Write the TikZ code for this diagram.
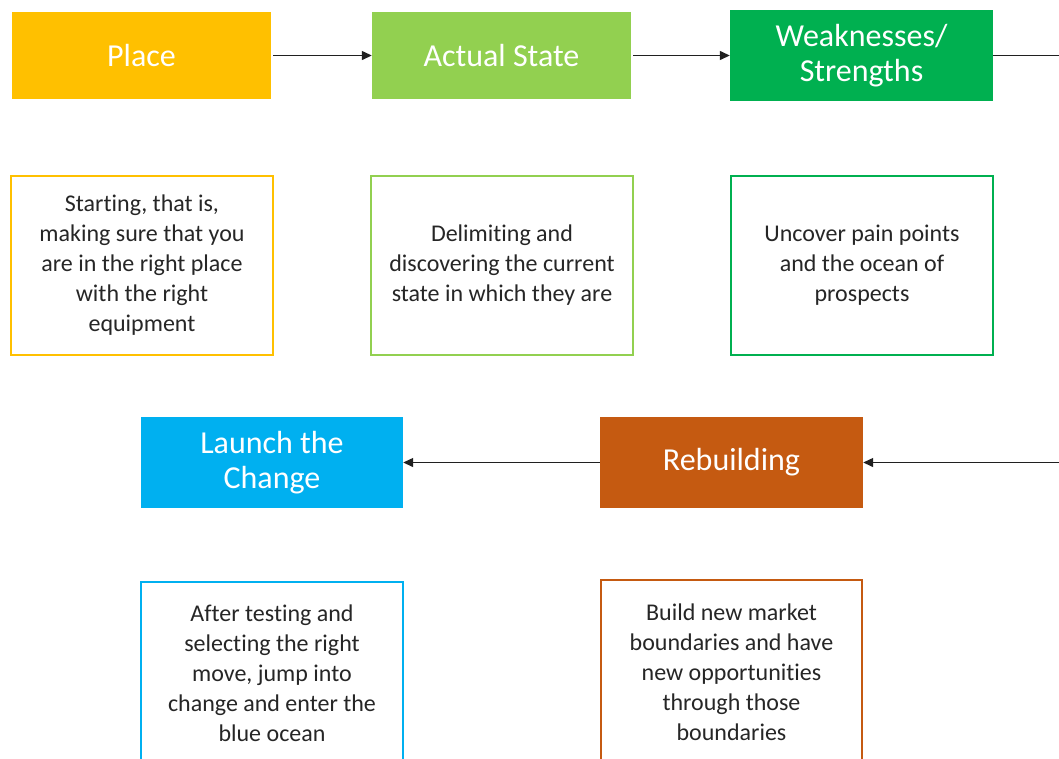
\documentclass[tikz,border=0pt]{standalone}
\usepackage{fontspec}
\setmainfont{Carlito}[Ligatures=NoCommon]
\usetikzlibrary{arrows.meta}
\definecolor{cPlace}{HTML}{FFC000}
\definecolor{cActual}{HTML}{92D050}
\definecolor{cWeak}{HTML}{00B050}
\definecolor{cLaunch}{HTML}{00B0F0}
\definecolor{cRebuild}{HTML}{C55A11}
\definecolor{cText}{HTML}{262626}
\definecolor{cLine}{HTML}{202020}
\begin{document}
\begin{tikzpicture}[x=1pt,y=-1pt,
  titlebox/.style={fill=#1, draw=none, text=white, align=center, inner sep=0pt,
    font=\fontsize{32}{35}\selectfont},
  descbox/.style={draw=#1, line width=1.6pt, fill=white, text=cText, align=center, inner sep=0pt,
    font=\fontsize{24}{30}\selectfont},
  conn/.style={draw=cLine, line width=1.3pt},
  arr/.style={conn, -{Triangle[length=10pt,width=9pt]}}]
\useasboundingbox (0,0) rectangle (1059,758);
\clip (0,0) rectangle (1059,758);
% top row titles
\node[titlebox=cPlace, minimum width=259pt, minimum height=87pt] (place) at (141.5,55.5) {Place};
\node[titlebox=cActual, minimum width=259pt, minimum height=87pt] (actual) at (501.5,55.5) {Actual State};
\node[titlebox=cWeak, minimum width=263pt, minimum height=91pt] (weak) at (861.5,55.5) {Weaknesses/\\Strengths};
% top row descriptions
\node[descbox=cPlace, minimum width=262pt, minimum height=179pt] (placed) at (142,265.5)
  {Starting, that is,\\making sure that you\\are in the right place\\with the right\\equipment};
\node[descbox=cActual, minimum width=262pt, minimum height=179pt] (actuald) at (502,265.5)
  {Delimiting and\\discovering the current\\state in which they are};
\node[descbox=cWeak, minimum width=262pt, minimum height=179pt] (weakd) at (862,265.5)
  {Uncover pain points\\and the ocean of\\prospects};
% bottom row titles
\node[titlebox=cLaunch, minimum width=262pt, minimum height=91pt] (launch) at (272,462.5) {Launch the\\Change};
\node[titlebox=cRebuild, minimum width=263pt, minimum height=91pt] (rebuild) at (731.5,462.5) {Rebuilding};
% bottom row descriptions
\node[descbox=cLaunch, minimum width=262pt, minimum height=182pt] (launchd) at (272,673)
  {After testing and\\selecting the right\\move, jump into\\change and enter the\\blue ocean};
\node[descbox=cRebuild, minimum width=261pt, minimum height=184pt] (rebuildd) at (731.5,672)
  {Build new market\\boundaries and have\\new opportunities\\through those\\boundaries};
% connectors
\coordinate (topout) at (1059,55.5);
\coordinate (botin) at (1059,462.5);
\draw[arr] ([xshift=2pt]place.east) -- (actual.west);
\draw[arr] ([xshift=2pt]actual.east) -- (weak.west);
\draw[conn] (weak.east) -- (topout);
\draw[arr] (botin) -- (rebuild.east);
\draw[arr] (rebuild.west) -- (launch.east);
\end{tikzpicture}
\end{document}
